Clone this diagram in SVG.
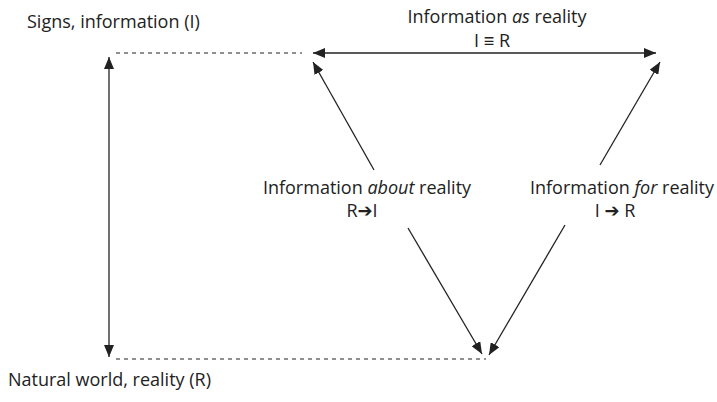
<svg xmlns="http://www.w3.org/2000/svg" width="717" height="402" viewBox="0 0 717 402">
<style>
text{font-family:"Open Sans","Liberation Sans",sans-serif;font-size:18px;fill:#222}
.c{text-anchor:middle}
.ln{stroke:#222;stroke-width:1.3;fill:none}
.ds{stroke:#222;stroke-width:1.1;stroke-dasharray:4,4;fill:none}
.ar{font-family:"DejaVu Sans",sans-serif;font-size:18px}
</style>
<defs>
<marker id="ah" viewBox="0 0 12 10" refX="12" refY="5" markerWidth="12" markerHeight="10" markerUnits="userSpaceOnUse" orient="auto-start-reverse">
<path d="M0,0 L12,5 L0,10 Z" fill="#222"/>
</marker>
</defs>
<rect width="717" height="402" fill="#fff"/>
<g id="connectors">
<line class="ds" x1="116" y1="53" x2="302" y2="53"/>
<line class="ds" x1="116" y1="359" x2="486" y2="359"/>
<line class="ln" x1="313" y1="53" x2="656" y2="53" marker-start="url(#ah)" marker-end="url(#ah)"/>
<line class="ln" x1="109" y1="57" x2="109" y2="357" marker-start="url(#ah)" marker-end="url(#ah)"/>
<line class="ln" x1="374" y1="170" x2="313" y2="62" marker-end="url(#ah)"/>
<line class="ln" x1="600" y1="165" x2="660" y2="62" marker-end="url(#ah)"/>
<line class="ln" x1="408" y1="228" x2="482" y2="354" marker-end="url(#ah)"/>
<line class="ln" x1="565" y1="225" x2="489" y2="355" marker-end="url(#ah)"/>
</g>
<g id="signs"><text x="27" y="28">Signs, information (I)</text></g>
<g id="natural"><text x="8" y="386">Natural world, reality (R)</text></g>
<g id="as"><text class="c" x="497" y="23">Information <tspan font-style="italic">as</tspan> reality</text>
<text class="c" x="492" y="47">I ≡ R</text></g>
<g id="about"><text class="c" x="367" y="194">Information <tspan font-style="italic">about</tspan> reality</text>
<text class="c" x="362" y="217">R<tspan class="ar">➔</tspan>I</text></g>
<g id="for"><text class="c" x="622" y="194">Information <tspan font-style="italic">for</tspan> reality</text>
<text class="c" x="615" y="217">I <tspan class="ar">➔</tspan> R</text></g>
</svg>
